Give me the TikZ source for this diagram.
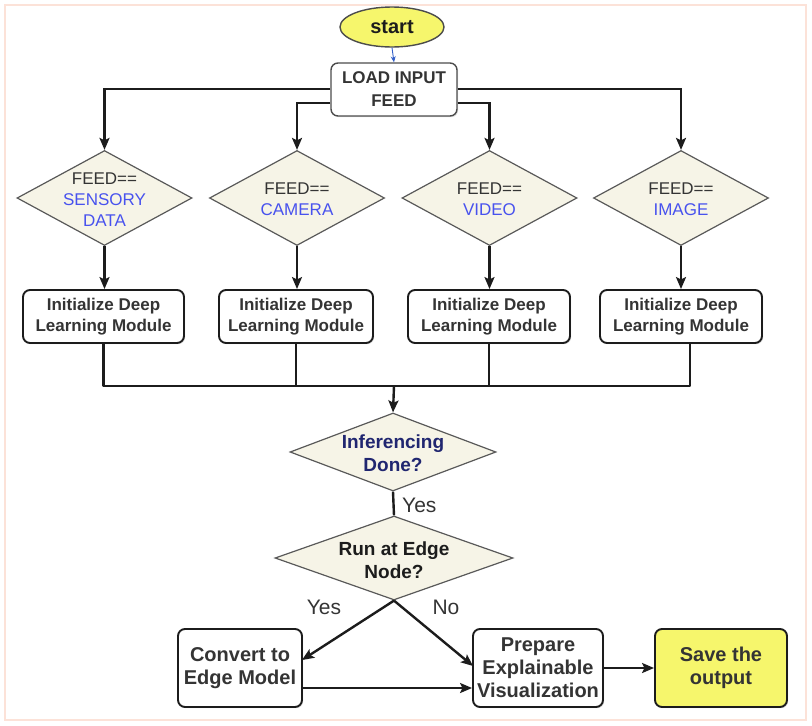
\documentclass[tikz,border=0pt]{standalone}
\usepackage{fontspec}
\setmainfont{Liberation Sans}
\usetikzlibrary{shapes.geometric,arrows.meta,shadows}
\definecolor{fb}{RGB}{72,82,238}
\definecolor{navy}{RGB}{32,38,112}
\definecolor{tg}{RGB}{52,52,52}
\definecolor{lc}{RGB}{28,28,28}
\definecolor{diafill}{RGB}{246,244,231}
\definecolor{ylw}{RGB}{246,246,108}
\definecolor{pinkb}{RGB}{252,226,216}
\definecolor{startarrow}{RGB}{50,95,200}
\begin{document}
\begin{tikzpicture}[x=1pt,y=-1pt,
  conn/.style={draw=lc,line width=2.4pt},
  arr/.style={conn,-{Stealth[length=12pt,width=10pt,inset=2.5pt]}},
  boxnode/.style={draw=lc,line width=1.9pt,rounded corners=7pt,fill=white,
    inner sep=0pt,align=center,text=tg,
    drop shadow={opacity=0.25,shadow xshift=1.2pt,shadow yshift=-1.2pt}},
  dia/.style={shape=diamond,draw=black!65,line width=1.2pt,fill=diafill,inner sep=0pt},
  ftxt/.style={align=center,text=tg,font=\fontsize{17}{21}\selectfont,inner sep=0pt},
  btxt/.style={align=center,text=tg,font=\bfseries\fontsize{19}{23}\selectfont,inner sep=0pt},
  lbl/.style={text=tg,font=\fontsize{21}{24}\selectfont,inner sep=0pt}
]
\useasboundingbox (0,0) rectangle (812,726);
\draw[pinkb,line width=2.5pt] (5,5) rectangle (806,720);

% start and load
\node[ellipse,draw=black!70,line width=1.4pt,fill=ylw,minimum width=104pt,minimum height=40pt,inner sep=0pt,
  font=\bfseries\fontsize{20}{24}\selectfont,text=lc] (start) at (392,27) {start};
\node[boxnode,minimum width=126pt,minimum height=53pt,line width=1.4pt,draw=black!70,
  font=\bfseries\fontsize{17}{23}\selectfont] (load) at (394,89.5) {LOAD INPUT\\FEED};
\draw[startarrow,line width=0.9pt,-{Stealth[length=6pt,width=5pt]}] (start.south) -- (load.north);

% feed diamonds
\node[dia,minimum width=175pt,minimum height=95pt] (d1) at (104.5,198) {};
\node[dia,minimum width=175pt,minimum height=95pt] (d2) at (297,198) {};
\node[dia,minimum width=175pt,minimum height=95pt] (d3) at (489.5,198) {};
\node[dia,minimum width=175pt,minimum height=95pt] (d4) at (681,198) {};
\node[ftxt] (d1t) at (104.5,199.5) {FEED==\\\textcolor{fb}{SENSORY}\\\textcolor{fb}{DATA}};
\node[ftxt] (d2t) at (297,199.5) {FEED==\\\textcolor{fb}{CAMERA}};
\node[ftxt] (d3t) at (489.5,199.5) {FEED==\\\textcolor{fb}{VIDEO}};
\node[ftxt] (d4t) at (681,199.5) {FEED==\\\textcolor{fb}{IMAGE}};

% init boxes
\node[boxnode,minimum width=161pt,minimum height=53pt,font=\bfseries\fontsize{17}{21}\selectfont] (b1) at (103.5,316.5) {Initialize Deep\\Learning Module};
\node[boxnode,minimum width=154pt,minimum height=53pt,font=\bfseries\fontsize{17}{21}\selectfont] (b2) at (296,316.5) {Initialize Deep\\Learning Module};
\node[boxnode,minimum width=162pt,minimum height=53pt,font=\bfseries\fontsize{17}{21}\selectfont] (b3) at (489,316.5) {Initialize Deep\\Learning Module};
\node[boxnode,minimum width=162pt,minimum height=53pt,font=\bfseries\fontsize{17}{21}\selectfont] (b4) at (681,316.5) {Initialize Deep\\Learning Module};

% lower diamonds
\node[dia,minimum width=206pt,minimum height=78pt] (inf) at (393,452) {};
\node[btxt,text=navy] (inft) at (393,453.5) {Inferencing\\Done?};
\node[dia,minimum width=238pt,minimum height=84pt] (run) at (394,558) {};
\node[btxt,text=lc] (runt) at (394,560) {Run at Edge\\Node?};

% bottom boxes
\node[boxnode,minimum width=124pt,minimum height=78pt,font=\bfseries\fontsize{20}{23}\selectfont] (conv) at (240,668) {Convert to\\Edge Model};
\node[boxnode,minimum width=130pt,minimum height=78pt,font=\bfseries\fontsize{20}{23}\selectfont] (prep) at (538,668) {Prepare\\Explainable\\Visualization};
\node[boxnode,minimum width=132pt,minimum height=78pt,fill=ylw,font=\bfseries\fontsize{20}{23}\selectfont] (save) at (721,668) {Save the\\output};

% connectors from load
\coordinate (lo) at (0,89);
\coordinate (li) at (0,103);
\draw[arr] (load.west |- lo) -| (d1.north);
\draw[arr] (load.east |- lo) -| (d4.north);
\draw[arr] (load.west |- li) -| (d2.north);
\draw[arr] (load.east |- li) -| (d3.north);

% diamonds to boxes
\draw[arr] (d1.south) -- (b1.north -| d1.south);
\draw[arr] (d2.south) -- (b2.north -| d2.south);
\draw[arr] (d3.south) -- (b3.north -| d3.south);
\draw[arr] (d4.south) -- (b4.north -| d4.south);

% collector
\coordinate (j) at (394,386);
\coordinate (b4o) at (690,0);
\draw[conn,line join=round] (b1.south) -- (b1.south |- j) -- (b4o |- j) -- (b4o |- b4.south);
\draw[conn] (b2.south) -- (b2.south |- j);
\draw[conn] (b3.south) -- (b3.south |- j);
\draw[arr] (j) -- (inf.north);

% inferencing to run
\draw[conn] (inf.south) -- (run.north);
\node[lbl,anchor=west] (yes1) at (402,505) {Yes};

% run to bottom
\coordinate (cin) at (302,660);
\coordinate (pin) at (473,666);
\draw[arr] (run.south) -- (cin);
\draw[arr] (run.south) -- (pin);
\node[lbl] (yes2) at (324,607) {Yes};
\node[lbl] (no) at (446,607) {No};
\coordinate (cp) at (0,688);
\draw[arr] (conv.east |- cp) -- (prep.west |- cp);
\draw[arr] (prep.east) -- (save.west);
\end{tikzpicture}
\end{document}
